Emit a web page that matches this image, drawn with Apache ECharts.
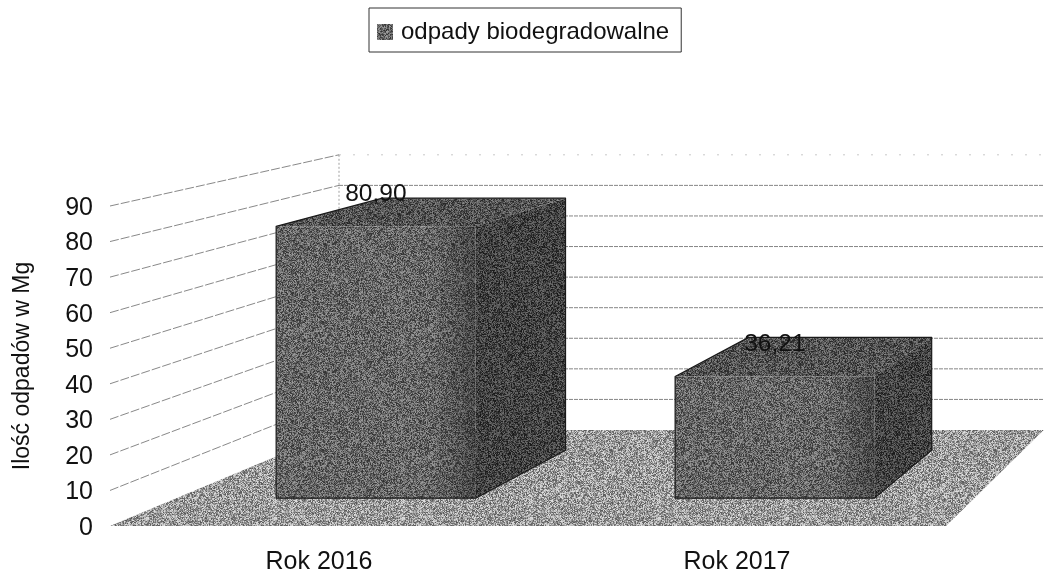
<!DOCTYPE html>
<html>
<head>
<meta charset="utf-8">
<style>
  html, body { margin: 0; padding: 0; background: #fff; }
  #chart { width: 1044px; height: 573px; }
</style>
</head>
<body>
<div id="chart"></div>
<script src="https://cdn.jsdelivr.net/npm/echarts@6/dist/echarts.min.js"></script>
<script>
const categories = ["Rok 2016", "Rok 2017"];
const wasteValues = [80.9, 36.21];
const yTicks = [0, 10, 20, 30, 40, 50, 60, 70, 80, 90];
const seriesName = "odpady biodegradowalne";
const axisName = "Ilość odpadów w Mg";

const FONT = "Liberation Sans";

// fake 3D: screen shift of the back plane compared to the front plane
const backShiftX = 229;
const backWidthRatio = 0.843;
const backRise = 96;
const backHeightRatio = 0.86;
const barFrontDepth = 0.29;
const barBackDepth = 0.79;
const barHeightScale = 0.985; // bars sit slightly lower than the wall scale

// scan-like speckle for the fills
function grain(base, spread, seed) {
  const size = 128;
  const c = document.createElement("canvas");
  c.width = c.height = size;
  const ctx = c.getContext("2d");
  const img = ctx.createImageData(size, size);
  let s = seed;
  for (let i = 0; i < size * size; i++) {
    s = (s * 1103515245 + 12345) & 0x7fffffff;
    const g = base + (((s >> 16) & 255) / 255 - 0.5) * spread;
    img.data[i * 4] = img.data[i * 4 + 1] = img.data[i * 4 + 2] = g;
    img.data[i * 4 + 3] = 255;
  }
  ctx.putImageData(img, 0, 0);
  return { image: c, repeat: "repeat" };
}

const floorFill = grain(156, 140, 7);
const frontFill = grain(102, 110, 11);
const sideFill = grain(66, 90, 23);
const topFill = grain(84, 100, 31);

function projector(params, api) {
  const g = params.coordSys;
  const baseY = g.y + g.height;
  return function (x, value, t) {
    const h = baseY - api.coord([0, value])[1];
    return [
      x + t * (backShiftX + (x - g.x) * (backWidthRatio - 1)),
      baseY - backRise * t - h * (1 - (1 - backHeightRatio) * t)
    ];
  };
}

function renderWalls(params, api) {
  const g = params.coordSys;
  const p = projector(params, api);
  const v = api.value(1);
  const left = p(g.x, v, 0);
  const corner = p(g.x, v, 1);
  const right = p(g.x + g.width, v, 1);
  const top = v === yTicks[yTicks.length - 1];
  const children = [];
  if (v !== 0) {
    children.push({
      type: "line",
      shape: { x1: left[0], y1: left[1], x2: corner[0], y2: corner[1] },
      style: { stroke: "#555", lineWidth: 0.7, lineDash: [9, 2] }
    });
    children.push({
      type: "line",
      shape: { x1: corner[0], y1: corner[1], x2: right[0], y2: right[1] },
      style: top
        ? { stroke: "#bbb", lineWidth: 0.8, lineDash: [2, 12] }
        : { stroke: "#666", lineWidth: 0.8, lineDash: [4, 1] }
    });
  }
  if (top) {
    const foot = p(g.x, 0, 1);
    children.push({
      type: "line",
      shape: { x1: corner[0], y1: corner[1], x2: foot[0], y2: foot[1] },
      style: { stroke: "#888", lineWidth: 0.8, lineDash: [2, 2] }
    });
  }
  return { type: "group", children };
}

function renderFloor(params, api) {
  const g = params.coordSys;
  const p = projector(params, api);
  return {
    type: "polygon",
    shape: {
      points: [
        p(g.x, 0, 0),
        p(g.x + g.width, 0, 0),
        p(g.x + g.width, 0, 1),
        p(g.x, 0, 1)
      ]
    },
    style: { fill: floorFill }
  };
}

function renderBar(params, api) {
  const p = projector(params, api);
  const idx = api.value(0);
  const value = api.value(1);
  const v = value * barHeightScale;
  const cx = api.coord([idx, 0])[0];
  const half = api.size([1, 0])[0] / 4;
  const l = cx - half;
  const r = cx + half;
  const d0 = barFrontDepth;
  const d1 = barBackDepth;
  const labelPos = p(cx, v, d0);
  const shadeFrom = l + (r - l) * 0.78;
  return {
    type: "group",
    children: [
      {
        type: "polygon",
        shape: { points: [p(r, 0, d0), p(r, 0, d1), p(r, v, d1), p(r, v, d0)] },
        style: { fill: sideFill }
      },
      {
        type: "polygon",
        shape: { points: [p(l, v, d0), p(r, v, d0), p(r, v, d1), p(l, v, d1)] },
        style: { fill: topFill }
      },
      {
        type: "polygon",
        shape: { points: [p(l, 0, d0), p(r, 0, d0), p(r, v, d0), p(l, v, d0)] },
        style: { fill: frontFill }
      },
      {
        // soft darkening towards the side face, there is no hard edge there
        type: "polygon",
        shape: { points: [p(shadeFrom, 0, d0), p(r, 0, d0), p(r, v, d0), p(shadeFrom, v, d0)] },
        style: {
          fill: {
            type: "linear",
            x: 0, y: 0, x2: 1, y2: 0,
            colorStops: [
              { offset: 0, color: "rgba(0,0,0,0)" },
              { offset: 1, color: "rgba(0,0,0,0.3)" }
            ]
          }
        }
      },
      {
        // outer outline only
        type: "polygon",
        shape: {
          points: [p(l, 0, d0), p(r, 0, d0), p(r, 0, d1), p(r, v, d1), p(l, v, d1), p(l, v, d0)]
        },
        style: { fill: "none", stroke: "#1a1a1a", lineWidth: 1.2, lineJoin: "round" }
      },
      {
        type: "text",
        x: labelPos[0],
        y: labelPos[1] - 32,
        style: {
          text: value.toFixed(2).replace(".", ","),
          fill: "#111",
          font: "24.5px '" + FONT + "'",
          align: "center",
          verticalAlign: "middle"
        }
      }
    ]
  };
}

const chart = echarts.init(document.getElementById("chart"));
chart.setOption({
  animation: false,
  backgroundColor: "#fff",
  textStyle: { fontFamily: FONT },
  legend: {
    data: [seriesName],
    left: 369,
    top: 8,
    padding: [12, 12, 8, 8],
    itemWidth: 16,
    itemHeight: 16,
    itemGap: 0,
    borderColor: "#333",
    borderWidth: 1,
    icon: "rect",
    itemStyle: { color: frontFill },
    textStyle: { fontSize: 24, color: "#111", fontFamily: FONT, padding: [0, 0, 0, 3] }
  },
  grid: { left: 110, right: 98, top: 206, bottom: 47, outerBoundsMode: "none" },
  xAxis: {
    type: "category",
    data: categories,
    axisLine: { show: false },
    axisTick: { show: false },
    axisLabel: { fontSize: 25, color: "#111", margin: 24, fontFamily: FONT }
  },
  yAxis: {
    type: "value",
    min: 0,
    max: 90,
    interval: 10,
    name: axisName,
    nameLocation: "middle",
    nameGap: 76,
    nameTextStyle: { fontSize: 23, color: "#111", fontFamily: FONT },
    axisLine: { show: false },
    axisTick: { show: false },
    splitLine: { show: false },
    axisLabel: {
      margin: 17,
      formatter: "{tick|{value}}",
      rich: {
        tick: { fontSize: 25, color: "#111", fontFamily: FONT, padding: [4, 0, 0, 0] }
      }
    }
  },
  series: [
    {
      type: "custom",
      name: "walls",
      z: 1,
      silent: true,
      renderItem: renderWalls,
      data: yTicks.map(function (v) { return [0, v]; })
    },
    {
      type: "custom",
      name: "floor",
      z: 2,
      silent: true,
      renderItem: renderFloor,
      data: [[0, 0]]
    },
    {
      type: "custom",
      name: seriesName,
      z: 3,
      itemStyle: { color: frontFill },
      renderItem: renderBar,
      data: wasteValues.map(function (v, i) { return [i, v]; })
    }
  ]
});
</script>
</body>
</html>
